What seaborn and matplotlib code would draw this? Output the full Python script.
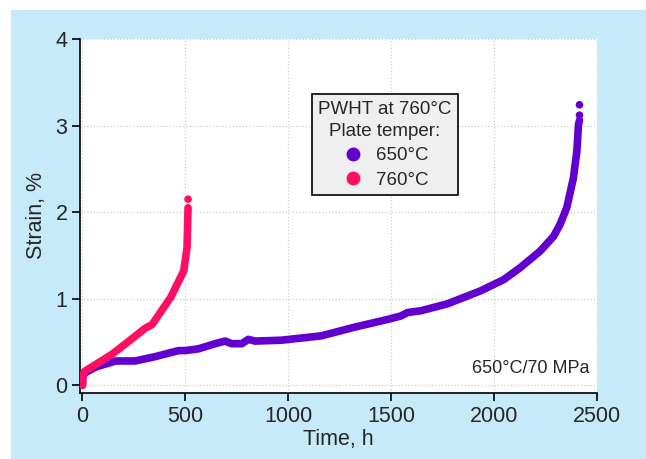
import matplotlib
matplotlib.use("Agg")
import matplotlib.pyplot as plt
import seaborn as sns
import pandas as pd
from matplotlib.lines import Line2D
from matplotlib.patches import Rectangle

# ---- data ----
t650 = [0, 2, 10, 64, 161, 256, 353, 467, 500, 563, 645, 693, 725, 774, 806, 838, 967,
        1160, 1321, 1483, 1547, 1580, 1644, 1773, 1934, 2047, 2128, 2224, 2289, 2321,
        2353, 2385, 2402, 2410, 2415]
s650 = [0, 0.10, 0.14, 0.21, 0.28, 0.28, 0.33, 0.40, 0.40, 0.42, 0.48, 0.51, 0.48, 0.48, 0.53, 0.51, 0.52,
        0.57, 0.67, 0.76, 0.80, 0.84, 0.86, 0.94, 1.09, 1.22, 1.36, 1.55, 1.72, 1.86,
        2.05, 2.39, 2.70, 3.01, 3.06]
t650_end = [2415, 2415]
s650_end = [3.12, 3.24]

t760 = [0, 2, 10, 65, 145, 226, 306, 338, 387, 430, 467, 492, 508, 513]
s760 = [0, 0.10, 0.16, 0.24, 0.36, 0.51, 0.66, 0.70, 0.87, 1.02, 1.20, 1.32, 1.59, 2.05]
t760_end = [513]
s760_end = [2.15]

series_labels = ["650°C", "760°C"]
colors = ["#6200cf", "#ff0f63"]
x_ticks = [0, 500, 1000, 1500, 2000, 2500]
y_ticks = [0, 1, 2, 3, 4]

df650 = pd.DataFrame({"t": t650, "s": s650})
df760 = pd.DataFrame({"t": t760, "s": s760})
dfe650 = pd.DataFrame({"t": t650_end, "s": s650_end})
dfe760 = pd.DataFrame({"t": t760_end, "s": s760_end})

sns.set_style("white")
plt.rcParams["font.family"] = ["Liberation Sans", "DejaVu Sans"]

fig = plt.figure(figsize=(6.46, 4.59), dpi=100)
fig.patch.set_facecolor("white")
fig.patches.append(Rectangle((11 / 646, 0), 1, 1 - 10 / 459, transform=fig.transFigure,
                             facecolor="#c6eafa", edgecolor="none", zorder=-10))

ax = fig.add_axes([80 / 646, 1 - 393 / 459, (597 - 80) / 646, (393 - 39) / 459])
ax.set_facecolor("white")

sns.lineplot(data=df650, x="t", y="s", ax=ax, color=colors[0], lw=5.5, sort=False,
             solid_capstyle="round", solid_joinstyle="round", zorder=3)
sns.lineplot(data=df760, x="t", y="s", ax=ax, color=colors[1], lw=5.5, sort=False,
             solid_capstyle="round", solid_joinstyle="round", zorder=4)
sns.scatterplot(data=dfe650, x="t", y="s", ax=ax, color=colors[0], s=30, edgecolor="none", zorder=3)
sns.scatterplot(data=dfe760, x="t", y="s", ax=ax, color=colors[1], s=30, edgecolor="none", zorder=4)

ax.set_xlim(-12, 2500)
ax.set_ylim(-0.09, 4)
ax.set_xticks(x_ticks)
ax.set_yticks(y_ticks)
ax.tick_params(axis="both", direction="out", length=6, width=1.2, color="black",
               labelsize=15.5, pad=3, left=True, bottom=True)
for side in ["top", "right"]:
    ax.spines[side].set_visible(False)
for side in ["left", "bottom"]:
    ax.spines[side].set_color("black")
    ax.spines[side].set_linewidth(1.2)
ax.grid(True, linestyle=":", color="#cfcfcf", linewidth=0.9)
ax.set_axisbelow(True)

ax.set_xlabel("Time, h", fontsize=15.5, labelpad=2)
ax.set_ylabel("Strain, %", fontsize=15.5, labelpad=6)

handles = [Line2D([], [], marker="o", linestyle="none", markersize=10,
                  markerfacecolor=c, markeredgecolor="none") for c in colors]
leg = ax.legend(handles, series_labels, title="PWHT at 760°C\nPlate temper:",
                loc="upper center", bbox_to_anchor=(0.59, 0.87), fontsize=13.5,
                title_fontsize=13.5, frameon=True, fancybox=False, framealpha=1,
                edgecolor="black", facecolor="#efefef", handletextpad=0.6,
                borderpad=0.35, labelspacing=0.38, handlelength=1.2)
leg.get_frame().set_linewidth(1.2)
leg.get_title().set_multialignment("center")
leg.get_title().set_linespacing(1.4)

ax.text(0.985, 0.045, "650°C/70 MPa", transform=ax.transAxes, ha="right", va="bottom",
        fontsize=13)

fig.savefig("out.png", dpi=100, facecolor=fig.get_facecolor())
